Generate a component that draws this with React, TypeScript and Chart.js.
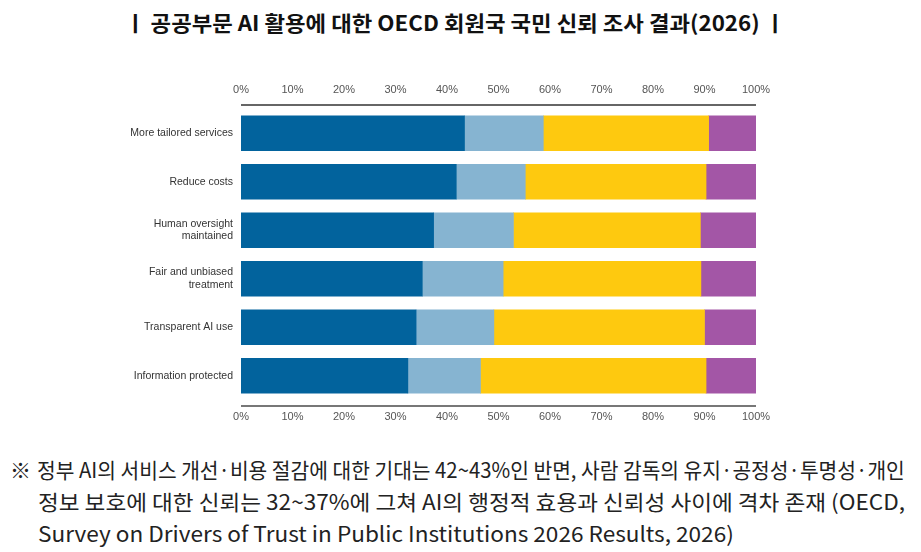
import React, { useEffect, useLayoutEffect, useRef, useState } from "react";
import { Chart, registerables } from "chart.js";

Chart.register(...registerables);

const categories: (string | string[])[] = [
  "More tailored services",
  "Reduce costs",
  ["Human oversight", "maintained"],
  ["Fair and unbiased", "treatment"],
  "Transparent AI use",
  "Information protected",
];

const seriesNames = ["Trust high", "Trust moderate", "Trust low", "Don't know"];
const darkBlue = [43.4, 41.8, 37.4, 35.2, 34.0, 32.4];
const lightBlue = [15.3, 13.4, 15.5, 15.7, 15.1, 14.1];
const yellow = [32.1, 35.1, 36.3, 38.4, 40.9, 43.8];
const purple = [9.2, 9.7, 10.8, 10.7, 10.0, 9.7];
const seriesColors = ["#02639D", "#86B4D1", "#FEC90F", "#A356A6"];

const tickValues = [0, 10, 20, 30, 40, 50, 60, 70, 80, 90, 100];

const titleText = "ㅣ 공공부문 AI 활용에 대한 OECD 회원국 국민 신뢰 조사 결과(2026) ㅣ";
const noteLines = [
  "정부 AI의 서비스 개선·비용 절감에 대한 기대는 42~43%인 반면, 사람 감독의 유지·공정성·투명성·개인",
  "정보 보호에 대한 신뢰는 32~37%에 그쳐 AI의 행정적 효용과 신뢰성 사이에 격차 존재 (OECD,",
  "Survey on Drivers of Trust in Public Institutions 2026 Results, 2026)",
];

const axisLines = {
  id: "axisLines",
  afterDraw(chart: any) {
    const { ctx, chartArea } = chart;
    ctx.save();
    ctx.strokeStyle = "#333";
    ctx.lineWidth = 1.5;
    ctx.beginPath();
    ctx.moveTo(chartArea.left, chartArea.top - 4);
    ctx.lineTo(chartArea.right, chartArea.top - 4);
    ctx.stroke();
    ctx.strokeStyle = "#777";
    ctx.lineWidth = 2;
    ctx.beginPath();
    ctx.moveTo(chartArea.left, chartArea.bottom + 6);
    ctx.lineTo(chartArea.right, chartArea.bottom + 6);
    ctx.stroke();
    ctx.restore();
  },
};

function Scaled({ text, width, style, onScale, scaleOverride }: any) {
  const ref = useRef<HTMLSpanElement>(null);
  const [scale, setScale] = useState(1);
  useLayoutEffect(() => {
    let alive = true;
    const measure = () => {
      if (!alive || !ref.current) return;
      const w = ref.current.offsetWidth;
      const s = scaleOverride ?? width / w;
      setScale(s);
      if (onScale) onScale(s);
    };
    measure();
    if ((document as any).fonts && (document as any).fonts.ready) {
      (document as any).fonts.ready.then(measure);
    }
    return () => {
      alive = false;
    };
  }, [text, width, scaleOverride]);
  return (
    <span
      ref={ref}
      style={{
        display: "inline-block",
        whiteSpace: "nowrap",
        transform: `scaleX(${scale})`,
        transformOrigin: "left center",
        ...style,
      }}
    >
      {text}
    </span>
  );
}

export default function App() {
  const canvasRef = useRef<HTMLCanvasElement>(null);
  const [line2Scale, setLine2Scale] = useState<number | undefined>(undefined);

  useEffect(() => {
    if (!canvasRef.current) return;
    const data = [darkBlue, lightBlue, yellow, purple];
    const tickFont = { family: "'Liberation Sans', Arial, sans-serif", size: 11 };
    const chart = new Chart(canvasRef.current, {
      type: "bar",
      data: {
        labels: categories,
        datasets: data.map((d, i) => ({
          label: seriesNames[i],
          data: d,
          backgroundColor: seriesColors[i],
          borderWidth: 0,
          barThickness: 35,
        })),
      },
      options: {
        indexAxis: "y",
        animation: false,
        responsive: false,
        maintainAspectRatio: false,
        layout: { padding: { left: 0, right: 165, top: 0, bottom: 0 } },
        plugins: { legend: { display: false }, tooltip: { enabled: false }, title: { display: false } },
        scales: {
          x: {
            type: "linear",
            position: "bottom",
            stacked: true,
            min: 0,
            max: 100,
            grid: { display: false, drawTicks: false },
            border: { display: false },
            afterBuildTicks: (s: any) => {
              s.ticks = tickValues.map((v) => ({ value: v }));
            },
            afterFit: (s: any) => {
              s.height = 50;
            },
            ticks: {
              padding: 10,
              color: "#555",
              font: tickFont,
              maxRotation: 0,
              autoSkip: false,
              callback: (v: any) => `${v}%`,
            },
          },
          x2: {
            type: "linear",
            position: "top",
            min: 0,
            max: 100,
            grid: { display: false, drawTicks: false },
            border: { display: false },
            afterBuildTicks: (s: any) => {
              s.ticks = tickValues.map((v) => ({ value: v }));
            },
            afterFit: (s: any) => {
              s.height = 109;
            },
            ticks: {
              padding: 12,
              color: "#555",
              font: tickFont,
              maxRotation: 0,
              autoSkip: false,
              callback: (v: any) => `${v}%`,
            },
          },
          y: {
            stacked: true,
            grid: { display: false, drawTicks: false },
            border: { display: false },
            afterFit: (s: any) => {
              s.width = 241;
            },
            ticks: {
              padding: 8,
              color: "#333",
              font: { ...tickFont, size: 10.5, lineHeight: 1.2 },
            },
          },
        },
      },
      plugins: [axisLines],
    });
    return () => chart.destroy();
  }, []);

  const cjk = "'Noto Sans CJK KR', 'Noto Sans', sans-serif";

  return (
    <div style={{ position: "fixed", left: 0, top: 0, width: 921, height: 552, background: "#fff", overflow: "hidden" }}>
      <div style={{ position: "absolute", left: 125, top: 6, height: 32, lineHeight: "32px", fontFamily: cjk, fontWeight: 700, fontSize: 21, color: "#111" }}>
        <Scaled text={titleText} width={660} />
      </div>
      <canvas ref={canvasRef} width={921} height={450} style={{ position: "absolute", left: 0, top: 0, width: 921, height: 450 }} />
      <div style={{ position: "absolute", left: 10, top: 453, fontFamily: cjk, fontSize: 21, color: "#222", lineHeight: "32px" }}>
        <div style={{ position: "absolute", left: 0, top: 0, whiteSpace: "nowrap" }}>※</div>
        <div style={{ position: "absolute", left: 27, top: 0 }}>
          <Scaled text={noteLines[0]} width={868} />
        </div>
        <div style={{ position: "absolute", left: 28, top: 32 }}>
          <Scaled text={noteLines[1]} width={867} onScale={(s: number) => setLine2Scale(s)} />
        </div>
        <div style={{ position: "absolute", left: 28, top: 64 }}>
          <Scaled text={noteLines[2]} width={379} scaleOverride={line2Scale} />
        </div>
      </div>
    </div>
  );
}
